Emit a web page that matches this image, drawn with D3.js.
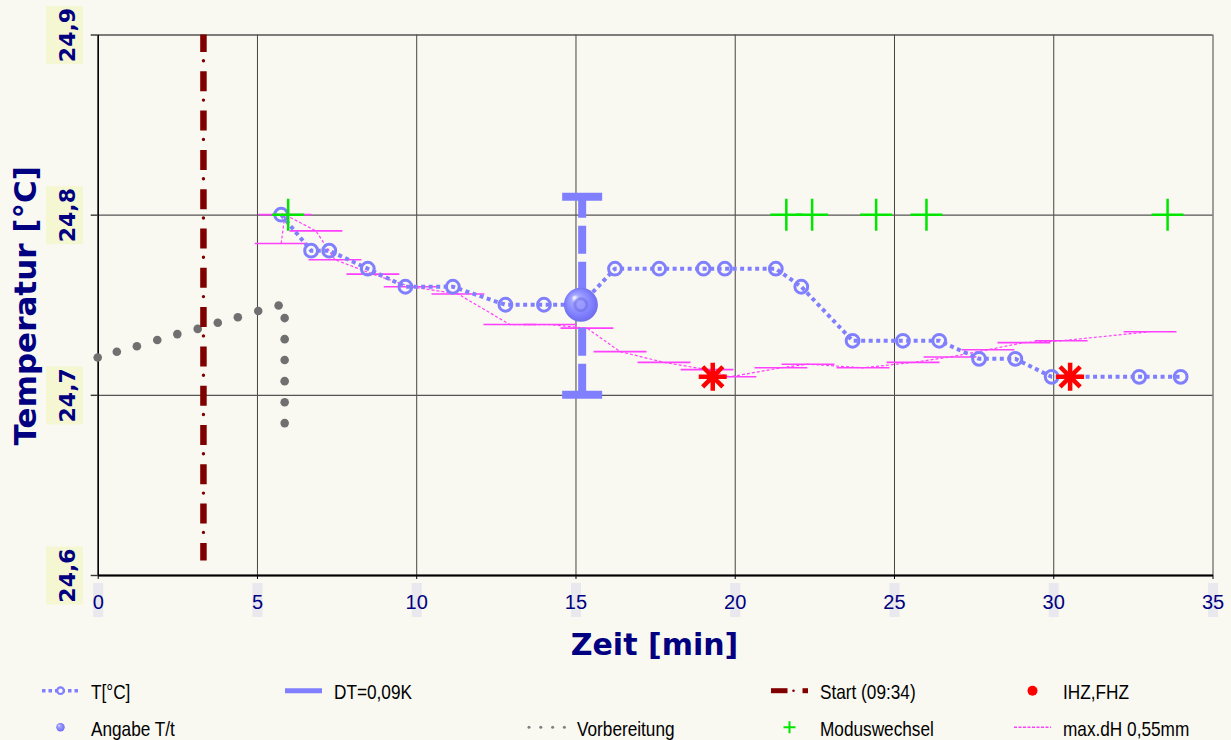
<!DOCTYPE html>
<html>
<head>
<meta charset="utf-8">
<script src="https://cdn.jsdelivr.net/npm/d3@7"></script>
<style>
  body { margin: 0; background: #f9f8f1; }
  svg { display: block; }
</style>
</head>
<body>
<div id="main"></div>
<script>
// T[°C] readings (time in min, temperature)
const tTime = [5.76, 6.70, 7.27, 8.48, 9.66, 11.15, 12.80, 14.01, 15.17, 16.24, 17.63, 19.02, 19.69, 21.29, 22.09, 23.70, 25.28, 26.42, 27.67, 28.81, 29.95, 32.70, 34.00];
const tTemp = [24.80, 24.78, 24.78, 24.77, 24.76, 24.76, 24.75, 24.75, 24.75, 24.77, 24.77, 24.77, 24.77, 24.77, 24.76, 24.73, 24.73, 24.73, 24.72, 24.72, 24.71, 24.71, 24.71];

// Angabe T/t
const markTime = [15.17];
const markTemp = [24.75];

// DT=0,09K bar
const dtTime = [15.21];
const dtMid = [24.755];
const dtLow = [24.70];
const dtHigh = [24.81];

// Start (09:34)
const startTime = [3.32];
const startFrom = [24.608];
const startTo = [24.9];

// IHZ,FHZ
const ihzTime = [19.31, 30.53];
const ihzTemp = [24.71, 24.71];

// Vorbereitung
const prepTime = [0.00, 0.60, 1.23, 1.87, 2.50, 3.14, 3.77, 4.40, 5.04, 5.68, 5.87, 5.87, 5.87, 5.87, 5.87, 5.87];
const prepTemp = [24.7207, 24.7239, 24.7270, 24.7304, 24.7337, 24.7366, 24.7400, 24.7431, 24.7465, 24.7496, 24.7426, 24.7309, 24.7193, 24.7076, 24.6959, 24.6843];

// Moduswechsel
const modeTime = [5.98, 21.62, 22.43, 24.44, 26.02, 33.59];
const modeTemp = [24.8, 24.8, 24.8, 24.8, 24.8, 24.8];

// max.dH 0,55mm
const dhTime = [5.76, 5.88, 6.85, 7.45, 8.64, 9.81, 11.31, 12.94, 14.20, 15.36, 16.40, 17.78, 19.13, 19.85, 21.45, 22.30, 24.03, 25.60, 26.76, 27.95, 29.08, 30.25, 33.04];
const dhTemp = [24.784, 24.800, 24.791, 24.775, 24.767, 24.760, 24.756, 24.739, 24.739, 24.737, 24.724, 24.718, 24.714, 24.710, 24.715, 24.717, 24.715, 24.718, 24.721, 24.725, 24.729, 24.730, 24.735];
const dhHalf = 0.83;

const xTicks = [0, 5, 10, 15, 20, 25, 30, 35];
const yTicks = [24.6, 24.7, 24.8, 24.9];

const legendNames = ["T[°C]", "DT=0,09K", "Start (09:34)", "IHZ,FHZ", "Angabe T/t", "Vorbereitung", "Moduswechsel", "max.dH 0,55mm"];
const legendKinds = ["t", "dt", "start", "ihz", "mark", "prep", "mode", "dh"];
const legendCol = [0, 1, 3, 4, 0, 2, 3, 4];
const legendRow = [0, 0, 0, 0, 1, 1, 1, 1];

const width = 1231;
const height = 740;
const margin = {top: 34.5, right: 18.5, bottom: 165, left: 97.7};

const bg = "#f9f8f1";
const navy = "#000080";
const blue = "#8080ff";
const magenta = "#ff40ff";
const green = "#00e600";
const darkRed = "#800000";

const x = d3.scaleLinear().domain([0, 35]).range([margin.left, width - margin.right]);
const y = d3.scaleLinear().domain([24.6, 24.9]).range([height - margin.bottom, margin.top]);

const svg = d3.create("svg")
    .attr("width", width)
    .attr("height", height)
    .attr("viewBox", [0, 0, width, height]);

svg.append("rect").attr("width", width).attr("height", height).attr("fill", bg);

const defs = svg.append("defs");
const grad = defs.append("radialGradient").attr("id", "ball")
    .attr("cx", "50%").attr("cy", "50%").attr("r", "55%")
    .attr("fx", "30%").attr("fy", "28%");
grad.append("stop").attr("offset", "0%").attr("stop-color", "#ffffff");
grad.append("stop").attr("offset", "22%").attr("stop-color", "#a8a8ff");
grad.append("stop").attr("offset", "70%").attr("stop-color", "#8080ff");
grad.append("stop").attr("offset", "100%").attr("stop-color", "#6868e8");

const fmt = d => d.toFixed(1).replace(".", ",");
const innerH = y(24.6) - y(24.9);
const innerW = x(35) - x(0);

// grid
svg.append("g")
    .attr("transform", `translate(0,${y(24.6)})`)
    .call(d3.axisBottom(x).tickValues(xTicks).tickSize(-innerH).tickFormat(""))
    .call(g => g.select(".domain").remove())
    .call(g => g.selectAll(".tick line").attr("stroke", "#444").attr("stroke-width", 1));

svg.append("g")
    .attr("transform", `translate(${x(0)},0)`)
    .call(d3.axisLeft(y).tickValues(yTicks).tickSize(-innerW).tickFormat(""))
    .call(g => g.select(".domain").remove())
    .call(g => g.selectAll(".tick line").attr("stroke", "#555").attr("stroke-width", 1.4));

// x axis
const xAxis = svg.append("g")
    .attr("transform", `translate(0,${y(24.6)})`)
    .call(d3.axisBottom(x).tickValues(xTicks).tickSize(4).tickPadding(16).tickSizeOuter(0).tickFormat(d => d))
    .call(g => g.select(".domain").attr("stroke", "#000").attr("stroke-width", 2));
xAxis.selectAll(".tick text")
    .attr("fill", navy)
    .attr("font-family", "Liberation Sans, Arial, sans-serif")
    .attr("font-size", 20);
xAxis.selectAll(".tick").each(function() {
    const t = d3.select(this).select("text");
    const w = t.node().getComputedTextLength();
    d3.select(this).insert("rect", "text")
        .attr("x", -w / 2 - 5).attr("y", 8)
        .attr("width", w + 10).attr("height", 34)
        .attr("fill", "#e8e8ee");
});

// y axis
const yAxis = svg.append("g")
    .attr("transform", `translate(${x(0)},0)`)
    .call(d3.axisLeft(y).tickValues(yTicks).tickSize(7).tickSizeOuter(0).tickFormat(fmt))
    .call(g => g.select(".domain").attr("stroke", "#000").attr("stroke-width", 1.5));
yAxis.selectAll(".tick line").attr("stroke", "#333").attr("stroke-width", 1.4);
yAxis.selectAll(".tick").insert("rect", "text")
    .attr("x", -51.7).attr("y", -29)
    .attr("width", 37).attr("height", 58)
    .attr("fill", "#f5f7d2");
yAxis.selectAll(".tick text")
    .attr("x", null).attr("dy", null)
    .attr("text-anchor", "middle")
    .attr("transform", "translate(-23.2,0) rotate(-90)")
    .attr("fill", navy)
    .attr("font-family", "DejaVu Sans, sans-serif")
    .attr("font-weight", "bold")
    .attr("font-size", 22);

// axis titles
svg.append("text")
    .attr("transform", `translate(36,${(y(24.6) + y(24.9)) / 2 + 1}) rotate(-90)`)
    .attr("text-anchor", "middle")
    .attr("fill", navy)
    .attr("font-family", "DejaVu Sans, sans-serif")
    .attr("font-weight", "bold")
    .attr("font-size", 31)
    .text("Temperatur [°C]");

svg.append("text")
    .attr("x", 654.5).attr("y", 655)
    .attr("text-anchor", "middle")
    .attr("fill", navy)
    .attr("font-family", "DejaVu Sans, sans-serif")
    .attr("font-weight", "bold")
    .attr("font-size", 30)
    .text("Zeit [min]");

// Vorbereitung dots
svg.append("g")
    .selectAll("circle")
    .data(prepTime.map((t, i) => [t, prepTemp[i]]))
    .join("circle")
    .attr("cx", d => x(d[0]))
    .attr("cy", d => y(d[1]))
    .attr("r", 4.3)
    .attr("fill", "#707070");

// Start line
startTime.forEach((t, i) => {
    const g = svg.append("g");
    g.append("line")
        .attr("x1", x(t)).attr("x2", x(t))
        .attr("y1", y(startTo[i])).attr("y2", y(startFrom[i]))
        .attr("stroke", darkRed).attr("stroke-width", 6.5)
        .attr("stroke-dasharray", "20,19.3").attr("stroke-dashoffset", 2.5);
    g.append("line")
        .attr("x1", x(t)).attr("x2", x(t))
        .attr("y1", y(startTo[i])).attr("y2", y(startFrom[i]))
        .attr("stroke", darkRed).attr("stroke-width", 3.4)
        .attr("stroke-linecap", "round")
        .attr("stroke-dasharray", "0,39.3").attr("stroke-dashoffset", 13);
});

// max.dH
const dhData = dhTime.map((t, i) => [t, dhTemp[i]]);
const line = d3.line().x(d => x(d[0])).y(d => y(d[1]));
svg.append("path")
    .datum(dhData)
    .attr("fill", "none")
    .attr("stroke", magenta)
    .attr("stroke-width", 1.2)
    .attr("stroke-dasharray", "3,2")
    .attr("d", line);
svg.append("g")
    .selectAll("line")
    .data(dhData)
    .join("line")
    .attr("x1", d => x(d[0] - dhHalf))
    .attr("x2", d => x(d[0] + dhHalf))
    .attr("y1", d => y(d[1]))
    .attr("y2", d => y(d[1]))
    .attr("stroke", magenta)
    .attr("stroke-width", 1.6);

// T line
const tData = tTime.map((t, i) => [t, tTemp[i]]);
svg.append("path")
    .datum(tData)
    .attr("fill", "none")
    .attr("stroke", blue)
    .attr("stroke-width", 4)
    .attr("stroke-dasharray", "4,3.5")
    .attr("d", line);
svg.append("g")
    .selectAll("circle")
    .data(tData)
    .join("circle")
    .attr("cx", d => x(d[0]))
    .attr("cy", d => y(d[1]))
    .attr("r", 6.4)
    .attr("fill", "none")
    .attr("stroke", blue)
    .attr("stroke-width", 3);

// DT bar
dtTime.forEach((t, i) => {
    const g = svg.append("g").attr("stroke", blue).attr("stroke-width", 8);
    g.append("line")
        .attr("x1", x(t)).attr("x2", x(t))
        .attr("y1", y(dtMid[i])).attr("y2", y(dtHigh[i]))
        .attr("stroke-dasharray", "28,8").attr("stroke-dashoffset", 30);
    g.append("line")
        .attr("x1", x(t)).attr("x2", x(t))
        .attr("y1", y(dtMid[i])).attr("y2", y(dtLow[i]))
        .attr("stroke-dasharray", "28,8").attr("stroke-dashoffset", 4);
    [dtHigh[i], dtLow[i]].forEach(v => {
        g.append("line")
            .attr("x1", x(t) - 20).attr("x2", x(t) + 20)
            .attr("y1", y(v)).attr("y2", y(v));
    });
});

// Angabe T/t ball
svg.append("g")
    .selectAll("circle")
    .data(markTime.map((t, i) => [t, markTemp[i]]))
    .join("circle")
    .attr("cx", d => x(d[0]))
    .attr("cy", d => y(d[1]))
    .attr("r", 17)
    .attr("fill", "url(#ball)");
svg.append("g")
    .selectAll("circle")
    .data(markTime.map((t, i) => [t, markTemp[i]]))
    .join("circle")
    .attr("cx", d => x(d[0]))
    .attr("cy", d => y(d[1]))
    .attr("r", 6)
    .attr("fill", "#9a9aff")
    .attr("stroke", "#7070e8")
    .attr("stroke-width", 3)
    .attr("opacity", 0.6);

// Moduswechsel crosses
svg.append("g")
    .selectAll("path")
    .data(modeTime.map((t, i) => [t, modeTemp[i]]))
    .join("path")
    .attr("d", d => `M${x(d[0]) - 16},${y(d[1])}H${x(d[0]) + 16}M${x(d[0])},${y(d[1]) - 16}V${y(d[1]) + 16}`)
    .attr("stroke", green)
    .attr("stroke-width", 2.5)
    .attr("fill", "none");

// IHZ,FHZ stars
const star = (cx, cy, r) => {
    const d = r * 0.72;
    return `M${cx - r},${cy}H${cx + r}M${cx},${cy - r}V${cy + r}` +
        `M${cx - d},${cy - d}L${cx + d},${cy + d}M${cx - d},${cy + d}L${cx + d},${cy - d}`;
};
svg.append("g")
    .selectAll("path")
    .data(ihzTime.map((t, i) => [t, ihzTemp[i]]))
    .join("path")
    .attr("d", d => star(x(d[0]), y(d[1]), 14))
    .attr("stroke", "#ff0000")
    .attr("stroke-width", 4.5)
    .attr("fill", "none");

// legend
const legend = svg.append("g");
legendNames.forEach((name, i) => {
    const tx = 91 + 243 * legendCol[i];
    const cy = 690.7 + 36.5 * legendRow[i];
    const cx = tx - 30.5;
    const g = legend.append("g");
    const kind = legendKinds[i];
    if (kind === "t") {
        g.append("line").attr("x1", cx - 18.5).attr("x2", cx + 18.5).attr("y1", cy).attr("y2", cy)
            .attr("stroke", blue).attr("stroke-width", 3.5).attr("stroke-dasharray", "3.5,3");
        g.append("circle").attr("cx", cx).attr("cy", cy).attr("r", 3.3)
            .attr("fill", bg).attr("stroke", blue).attr("stroke-width", 2.2);
    } else if (kind === "dt") {
        g.append("line").attr("x1", cx - 18.5).attr("x2", cx + 18.5).attr("y1", cy).attr("y2", cy)
            .attr("stroke", blue).attr("stroke-width", 5);
    } else if (kind === "start") {
        g.append("rect").attr("x", cx - 18.5).attr("y", cy - 2.5).attr("width", 16.5).attr("height", 5).attr("fill", darkRed);
        g.append("circle").attr("cx", cx + 4).attr("cy", cy).attr("r", 1.3).attr("fill", darkRed);
        g.append("rect").attr("x", cx + 13).attr("y", cy - 2.5).attr("width", 5.5).attr("height", 5).attr("fill", darkRed);
    } else if (kind === "ihz") {
        g.append("circle").attr("cx", cx).attr("cy", cy).attr("r", 5).attr("fill", "#ff0000");
    } else if (kind === "mark") {
        g.append("circle").attr("cx", cx).attr("cy", cy).attr("r", 4.2).attr("fill", "url(#ball)");
    } else if (kind === "prep") {
        d3.range(4).forEach(k => {
            g.append("circle").attr("cx", cx - 17.5 + 11.8 * k).attr("cy", cy).attr("r", 1.5).attr("fill", "#808080");
        });
    } else if (kind === "mode") {
        g.append("path").attr("d", `M${cx - 6},${cy}H${cx + 6}M${cx},${cy - 6}V${cy + 6}`)
            .attr("stroke", green).attr("stroke-width", 2);
    } else if (kind === "dh") {
        g.append("line").attr("x1", cx - 18.5).attr("x2", cx + 18.5).attr("y1", cy).attr("y2", cy)
            .attr("stroke", magenta).attr("stroke-width", 1.5).attr("stroke-dasharray", "3,1.5");
    }
    g.append("text")
        .attr("transform", `translate(${tx},${cy + 8.3}) scale(0.82,1)`)
        .attr("font-family", "Liberation Sans, Arial, sans-serif")
        .attr("font-size", 21)
        .attr("fill", "#000")
        .text(name);
});

d3.select("#main").append(() => svg.node());
</script>
</body>
</html>
